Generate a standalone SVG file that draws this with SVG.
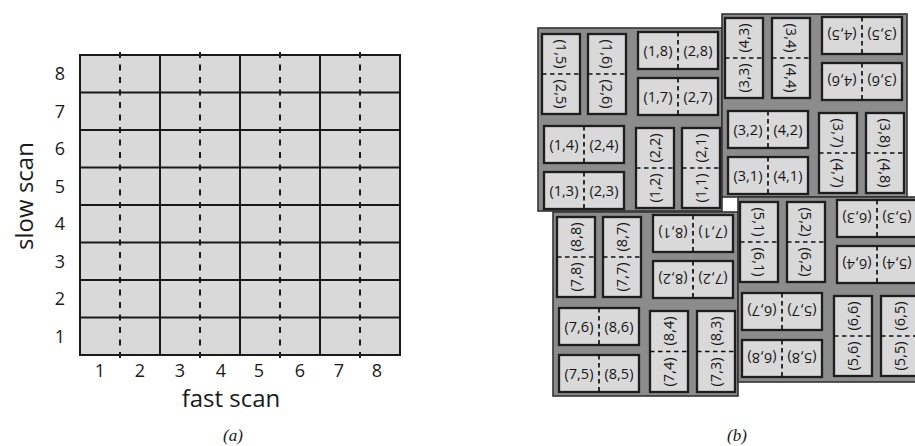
<svg xmlns="http://www.w3.org/2000/svg" width="915" height="446" viewBox="0 0 915 446">
<style>
.bg{fill:#ffffff}
.cell{fill:#d9d9d9;stroke:none}
.grid{stroke:#1a1a1a;stroke-width:2;fill:none}
.gdash{stroke:#1a1a1a;stroke-width:2;stroke-dasharray:6 6.5}
.ax{font-family:"Open Sans","Liberation Sans",sans-serif;font-size:18px;fill:#1a1a1a;text-anchor:middle}
.axt{font-family:"Open Sans","Liberation Sans",sans-serif;font-size:24px;fill:#1a1a1a;text-anchor:middle}
.cap{font-family:"Liberation Serif",serif;font-style:italic;font-size:17px;fill:#1a1a1a;text-anchor:middle}
.blk{fill:#8c8c8c;stroke:#333;stroke-width:1.6}
.box{fill:#d9d9d9;stroke:#1e1e1e;stroke-width:2.3}
.dash{stroke:#111;stroke-width:1.7;stroke-dasharray:4.5 3.5}
.lbl{font-family:"Open Sans","Liberation Sans",sans-serif;font-size:14.5px;fill:#151515;text-anchor:middle}
</style>
<rect class="bg" width="915" height="446"/>

<g id="panel-a">
  <rect class="cell" x="80" y="55" width="320" height="300"/>
  <g id="grid-dashes">
    <line class="gdash" x1="120" y1="52" x2="120" y2="358"/>
    <line class="gdash" x1="200" y1="52" x2="200" y2="358"/>
    <line class="gdash" x1="280" y1="52" x2="280" y2="358"/>
    <line class="gdash" x1="360" y1="52" x2="360" y2="358"/>
  </g>
  <g id="grid-lines">
    <rect class="grid" x="80" y="55" width="320" height="300"/>
    <line class="grid" x1="160" y1="55" x2="160" y2="355"/>
    <line class="grid" x1="240" y1="55" x2="240" y2="355"/>
    <line class="grid" x1="320" y1="55" x2="320" y2="355"/>
    <line class="grid" x1="80" y1="92.5" x2="400" y2="92.5"/>
    <line class="grid" x1="80" y1="130" x2="400" y2="130"/>
    <line class="grid" x1="80" y1="167.5" x2="400" y2="167.5"/>
    <line class="grid" x1="80" y1="205" x2="400" y2="205"/>
    <line class="grid" x1="80" y1="242.5" x2="400" y2="242.5"/>
    <line class="grid" x1="80" y1="280" x2="400" y2="280"/>
    <line class="grid" x1="80" y1="317.5" x2="400" y2="317.5"/>
  </g>
  <g id="y-labels">
    <text class="ax" x="60" y="73.75" dy=".36em">8</text>
    <text class="ax" x="60" y="111.25" dy=".36em">7</text>
    <text class="ax" x="60" y="148.75" dy=".36em">6</text>
    <text class="ax" x="60" y="186.25" dy=".36em">5</text>
    <text class="ax" x="60" y="223.75" dy=".36em">4</text>
    <text class="ax" x="60" y="261.25" dy=".36em">3</text>
    <text class="ax" x="60" y="298.75" dy=".36em">2</text>
    <text class="ax" x="60" y="336.25" dy=".36em">1</text>
  </g>
  <g id="x-labels">
    <text class="ax" x="100" y="377">1</text>
    <text class="ax" x="140" y="377">2</text>
    <text class="ax" x="180" y="377">3</text>
    <text class="ax" x="221" y="377">4</text>
    <text class="ax" x="259" y="377">5</text>
    <text class="ax" x="300" y="377">6</text>
    <text class="ax" x="339" y="377">7</text>
    <text class="ax" x="377" y="377">8</text>
  </g>
  <text class="axt" transform="translate(33,196) rotate(-90)">slow scan</text>
  <text class="axt" x="231" y="407">fast scan</text>
  <text class="cap" x="233" y="441">(a)</text>
</g>

<g id="panel-b">
  <g id="block-TL">
    <rect class="blk" x="538" y="28" width="184" height="183"/>
    <g id="b15" transform="translate(542,34)"><rect class="box" width="38" height="80"/><line class="dash" x1="0" y1="40" x2="38" y2="40"/><text class="lbl" transform="translate(19,20) rotate(90)" dy=".36em">(1,5)</text><text class="lbl" transform="translate(19,60) rotate(90)" dy=".36em">(2,5)</text></g>
    <g id="b16" transform="translate(588,34)"><rect class="box" width="38" height="80"/><line class="dash" x1="0" y1="40" x2="38" y2="40"/><text class="lbl" transform="translate(19,20) rotate(90)" dy=".36em">(1,6)</text><text class="lbl" transform="translate(19,60) rotate(90)" dy=".36em">(2,6)</text></g>
    <g id="b18" transform="translate(638,32)"><rect class="box" width="80" height="37"/><line class="dash" x1="40" y1="0" x2="40" y2="37"/><text class="lbl" x="20" y="18.5" dy=".36em">(1,8)</text><text class="lbl" x="60" y="18.5" dy=".36em">(2,8)</text></g>
    <g id="b17" transform="translate(638,78)"><rect class="box" width="80" height="37"/><line class="dash" x1="40" y1="0" x2="40" y2="37"/><text class="lbl" x="20" y="18.5" dy=".36em">(1,7)</text><text class="lbl" x="60" y="18.5" dy=".36em">(2,7)</text></g>
    <g id="b14" transform="translate(544,126)"><rect class="box" width="80" height="37"/><line class="dash" x1="40" y1="0" x2="40" y2="37"/><text class="lbl" x="20" y="18.5" dy=".36em">(1,4)</text><text class="lbl" x="60" y="18.5" dy=".36em">(2,4)</text></g>
    <g id="b13" transform="translate(544,172)"><rect class="box" width="80" height="37"/><line class="dash" x1="40" y1="0" x2="40" y2="37"/><text class="lbl" x="20" y="18.5" dy=".36em">(1,3)</text><text class="lbl" x="60" y="18.5" dy=".36em">(2,3)</text></g>
    <g id="b12" transform="translate(636,128)"><rect class="box" width="38" height="80"/><line class="dash" x1="0" y1="40" x2="38" y2="40"/><text class="lbl" transform="translate(19,20) rotate(-90)" dy=".36em">(2,2)</text><text class="lbl" transform="translate(19,60) rotate(-90)" dy=".36em">(1,2)</text></g>
    <g id="b11" transform="translate(682,128)"><rect class="box" width="38" height="80"/><line class="dash" x1="0" y1="40" x2="38" y2="40"/><text class="lbl" transform="translate(19,20) rotate(-90)" dy=".36em">(2,1)</text><text class="lbl" transform="translate(19,60) rotate(-90)" dy=".36em">(1,1)</text></g>
  </g>

  <g id="block-TR">
    <rect class="blk" x="722" y="14" width="185" height="183"/>
    <g id="b33" transform="translate(725,18)"><rect class="box" width="38" height="80"/><line class="dash" x1="0" y1="40" x2="38" y2="40"/><text class="lbl" transform="translate(19,20) rotate(-90)" dy=".36em">(4,3)</text><text class="lbl" transform="translate(19,60) rotate(-90)" dy=".36em">(3,3)</text></g>
    <g id="b34" transform="translate(772,18)"><rect class="box" width="38" height="80"/><line class="dash" x1="0" y1="40" x2="38" y2="40"/><text class="lbl" transform="translate(19,20) rotate(90)" dy=".36em">(3,4)</text><text class="lbl" transform="translate(19,60) rotate(90)" dy=".36em">(4,4)</text></g>
    <g id="b35" transform="translate(822,17)"><rect class="box" width="80" height="37"/><line class="dash" x1="40" y1="0" x2="40" y2="37"/><text class="lbl" transform="translate(20,18.5) rotate(180)" dy=".36em">(4,5)</text><text class="lbl" transform="translate(60,18.5) rotate(180)" dy=".36em">(3,5)</text></g>
    <g id="b36" transform="translate(822,63)"><rect class="box" width="80" height="37"/><line class="dash" x1="40" y1="0" x2="40" y2="37"/><text class="lbl" transform="translate(20,18.5) rotate(180)" dy=".36em">(4,6)</text><text class="lbl" transform="translate(60,18.5) rotate(180)" dy=".36em">(3,6)</text></g>
    <g id="b32" transform="translate(728,111)"><rect class="box" width="80" height="37"/><line class="dash" x1="40" y1="0" x2="40" y2="37"/><text class="lbl" x="20" y="18.5" dy=".36em">(3,2)</text><text class="lbl" x="60" y="18.5" dy=".36em">(4,2)</text></g>
    <g id="b31" transform="translate(728,157)"><rect class="box" width="80" height="37"/><line class="dash" x1="40" y1="0" x2="40" y2="37"/><text class="lbl" x="20" y="18.5" dy=".36em">(3,1)</text><text class="lbl" x="60" y="18.5" dy=".36em">(4,1)</text></g>
    <g id="b37" transform="translate(819,113)"><rect class="box" width="38" height="80"/><line class="dash" x1="0" y1="40" x2="38" y2="40"/><text class="lbl" transform="translate(19,20) rotate(90)" dy=".36em">(3,7)</text><text class="lbl" transform="translate(19,60) rotate(90)" dy=".36em">(4,7)</text></g>
    <g id="b38" transform="translate(866,113)"><rect class="box" width="38" height="80"/><line class="dash" x1="0" y1="40" x2="38" y2="40"/><text class="lbl" transform="translate(19,20) rotate(90)" dy=".36em">(3,8)</text><text class="lbl" transform="translate(19,60) rotate(90)" dy=".36em">(4,8)</text></g>
  </g>

  <g id="block-BL">
    <rect class="blk" x="553" y="212" width="185" height="184"/>
    <g id="b78" transform="translate(557,217)"><rect class="box" width="38" height="80"/><line class="dash" x1="0" y1="40" x2="38" y2="40"/><text class="lbl" transform="translate(19,20) rotate(-90)" dy=".36em">(8,8)</text><text class="lbl" transform="translate(19,60) rotate(-90)" dy=".36em">(7,8)</text></g>
    <g id="b77" transform="translate(603,217)"><rect class="box" width="38" height="80"/><line class="dash" x1="0" y1="40" x2="38" y2="40"/><text class="lbl" transform="translate(19,20) rotate(-90)" dy=".36em">(8,7)</text><text class="lbl" transform="translate(19,60) rotate(-90)" dy=".36em">(7,7)</text></g>
    <g id="b71" transform="translate(653,215)"><rect class="box" width="80" height="37"/><line class="dash" x1="40" y1="0" x2="40" y2="37"/><text class="lbl" transform="translate(20,18.5) rotate(180)" dy=".36em">(8,1)</text><text class="lbl" transform="translate(60,18.5) rotate(180)" dy=".36em">(7,1)</text></g>
    <g id="b72" transform="translate(653,261)"><rect class="box" width="80" height="37"/><line class="dash" x1="40" y1="0" x2="40" y2="37"/><text class="lbl" transform="translate(20,18.5) rotate(180)" dy=".36em">(8,2)</text><text class="lbl" transform="translate(60,18.5) rotate(180)" dy=".36em">(7,2)</text></g>
    <g id="b76" transform="translate(559,308)"><rect class="box" width="80" height="37"/><line class="dash" x1="40" y1="0" x2="40" y2="37"/><text class="lbl" x="20" y="18.5" dy=".36em">(7,6)</text><text class="lbl" x="60" y="18.5" dy=".36em">(8,6)</text></g>
    <g id="b75" transform="translate(559,355)"><rect class="box" width="80" height="37"/><line class="dash" x1="40" y1="0" x2="40" y2="37"/><text class="lbl" x="20" y="18.5" dy=".36em">(7,5)</text><text class="lbl" x="60" y="18.5" dy=".36em">(8,5)</text></g>
    <g id="b74" transform="translate(650,311)"><rect class="box" width="38" height="81"/><line class="dash" x1="0" y1="40.5" x2="38" y2="40.5"/><text class="lbl" transform="translate(19,20) rotate(-90)" dy=".36em">(8,4)</text><text class="lbl" transform="translate(19,61) rotate(-90)" dy=".36em">(7,4)</text></g>
    <g id="b73" transform="translate(697,311)"><rect class="box" width="38" height="81"/><line class="dash" x1="0" y1="40.5" x2="38" y2="40.5"/><text class="lbl" transform="translate(19,20) rotate(-90)" dy=".36em">(8,3)</text><text class="lbl" transform="translate(19,61) rotate(-90)" dy=".36em">(7,3)</text></g>
  </g>

  <g id="block-BR">
    <rect class="blk" x="738" y="197" width="186" height="185"/>
    <g id="b51" transform="translate(740,202)"><rect class="box" width="38" height="80"/><line class="dash" x1="0" y1="40" x2="38" y2="40"/><text class="lbl" transform="translate(19,20) rotate(90)" dy=".36em">(5,1)</text><text class="lbl" transform="translate(19,60) rotate(90)" dy=".36em">(6,1)</text></g>
    <g id="b52" transform="translate(787,202)"><rect class="box" width="38" height="80"/><line class="dash" x1="0" y1="40" x2="38" y2="40"/><text class="lbl" transform="translate(19,20) rotate(90)" dy=".36em">(5,2)</text><text class="lbl" transform="translate(19,60) rotate(90)" dy=".36em">(6,2)</text></g>
    <g id="b53" transform="translate(837,200)"><rect class="box" width="80" height="37"/><line class="dash" x1="40" y1="0" x2="40" y2="37"/><text class="lbl" transform="translate(20,18.5) rotate(180)" dy=".36em">(6,3)</text><text class="lbl" transform="translate(60,18.5) rotate(180)" dy=".36em">(5,3)</text></g>
    <g id="b54" transform="translate(837,246)"><rect class="box" width="80" height="37"/><line class="dash" x1="40" y1="0" x2="40" y2="37"/><text class="lbl" transform="translate(20,18.5) rotate(180)" dy=".36em">(6,4)</text><text class="lbl" transform="translate(60,18.5) rotate(180)" dy=".36em">(5,4)</text></g>
    <g id="b57" transform="translate(742,293)"><rect class="box" width="80" height="37"/><line class="dash" x1="40" y1="0" x2="40" y2="37"/><text class="lbl" transform="translate(20,18.5) rotate(180)" dy=".36em">(6,7)</text><text class="lbl" transform="translate(60,18.5) rotate(180)" dy=".36em">(5,7)</text></g>
    <g id="b58" transform="translate(742,340)"><rect class="box" width="80" height="37"/><line class="dash" x1="40" y1="0" x2="40" y2="37"/><text class="lbl" transform="translate(20,18.5) rotate(180)" dy=".36em">(6,8)</text><text class="lbl" transform="translate(60,18.5) rotate(180)" dy=".36em">(5,8)</text></g>
    <g id="b56" transform="translate(834,296)"><rect class="box" width="38" height="80"/><line class="dash" x1="0" y1="40" x2="38" y2="40"/><text class="lbl" transform="translate(19,20) rotate(-90)" dy=".36em">(6,6)</text><text class="lbl" transform="translate(19,60) rotate(-90)" dy=".36em">(5,6)</text></g>
    <g id="b55" transform="translate(881,296)"><rect class="box" width="38" height="80"/><line class="dash" x1="0" y1="40" x2="38" y2="40"/><text class="lbl" transform="translate(19,20) rotate(-90)" dy=".36em">(6,5)</text><text class="lbl" transform="translate(19,60) rotate(-90)" dy=".36em">(5,5)</text></g>
  </g>
  <text class="cap" x="737" y="441">(b)</text>
</g>
<g id="connectors"/>
</svg>
